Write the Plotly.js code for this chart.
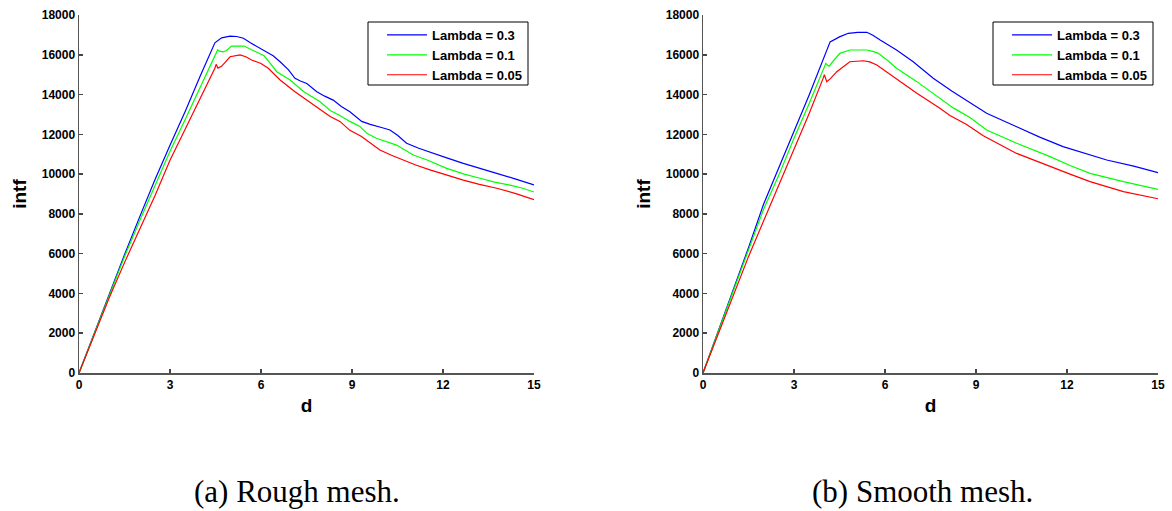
<!DOCTYPE html>
<html>
<head>
<meta charset="utf-8">
<script src="https://cdn.plot.ly/plotly-3.0.1.min.js"></script>
<style>html,body{margin:0;padding:0;background:#fff;}#chart{width:1172px;height:511px;}</style>
</head>
<body>
<div id="chart"></div>
<script>
// ---- Data ----
var seriesNames = ["Lambda = 0.3", "Lambda = 0.1", "Lambda = 0.05"];
var seriesColors = ["#0000ff", "#00ff00", "#ff0000"];
var xTicks = [0, 3, 6, 9, 12, 15];
var yTicks = [0, 2000, 4000, 6000, 8000, 10000, 12000, 14000, 16000, 18000];
var captions = ["(a) Rough mesh.", "(b) Smooth mesh."];

// (a) Rough mesh
var roughD_03 = [0, 0.5, 1, 1.5, 2, 2.5, 3, 3.5, 4, 4.48, 4.7, 4.98, 5.2, 5.42, 5.65, 5.86, 6.19, 6.4, 6.63, 6.9, 7.12, 7.3, 7.51, 7.84, 8.1, 8.38, 8.65, 8.93, 9.32, 9.6, 10.0, 10.25, 10.5, 10.8, 11.2, 11.57, 12.1, 12.67, 13.2, 13.77, 14.4, 15];
var roughV_03 = [0, 2000, 4000, 5950, 7850, 9700, 11450, 13150, 14950, 16600, 16850, 16940, 16920, 16830, 16600, 16420, 16150, 15950, 15650, 15250, 14820, 14680, 14560, 14140, 13920, 13720, 13400, 13130, 12650, 12500, 12330, 12220, 11950, 11550, 11300, 11120, 10830, 10540, 10280, 10040, 9750, 9460];
var roughD_01 = [0, 0.5, 1, 1.5, 2, 2.5, 3, 3.5, 4, 4.57, 4.63, 4.75, 4.85, 5.03, 5.44, 5.7, 5.91, 6.0, 6.1, 6.3, 6.52, 6.96, 7.4, 7.95, 8.28, 8.6, 8.93, 9.26, 9.49, 9.8, 10.1, 10.47, 11.02, 11.5, 12.12, 12.7, 13.22, 13.7, 14.21, 14.6, 15];
var roughV_01 = [0, 1980, 3950, 5850, 7650, 9400, 11150, 12750, 14390, 16240, 16180, 16150, 16200, 16440, 16440, 16250, 16070, 16010, 15950, 15580, 15150, 14730, 14150, 13640, 13200, 12950, 12650, 12400, 12050, 11800, 11650, 11460, 10960, 10700, 10290, 10000, 9790, 9600, 9450, 9300, 9100];
var roughD_005 = [0, 0.5, 1, 1.5, 2, 2.5, 3, 3.5, 4, 4.48, 4.52, 4.58, 4.7, 4.98, 5.31, 5.5, 5.69, 6.0, 6.24, 6.63, 7.12, 7.4, 7.73, 8.0, 8.28, 8.6, 8.93, 9.3, 9.92, 10.3, 10.69, 11.1, 11.57, 12.1, 12.67, 13.2, 13.77, 14.4, 15.0];
var roughV_005 = [0, 1900, 3800, 5550, 7200, 8900, 10700, 12250, 13850, 15320, 15520, 15330, 15420, 15900, 15990, 15900, 15740, 15560, 15320, 14730, 14140, 13830, 13470, 13200, 12900, 12650, 12200, 11900, 11210, 10950, 10710, 10460, 10210, 9960, 9700, 9480, 9290, 9020, 8720];

// (b) Smooth mesh
var smoothD_03 = [0, 0.5, 1, 1.5, 2, 2.5, 3, 3.5, 4.19, 4.5, 4.79, 5.1, 5.4, 5.6, 5.84, 6.1, 6.38, 6.93, 7.59, 8.2, 8.7, 9.35, 10.34, 11.1, 11.87, 12.6, 13.31, 14.2, 15];
var smoothV_03 = [0, 2100, 4150, 6300, 8500, 10350, 12130, 13980, 16650, 16900, 17080, 17130, 17130, 16980, 16740, 16500, 16240, 15650, 14820, 14180, 13700, 13060, 12380, 11860, 11380, 11030, 10710, 10400, 10070];
var smoothD_01 = [0, 0.5, 1, 1.5, 2, 2.5, 3, 3.5, 4.05, 4.1, 4.16, 4.3, 4.51, 4.84, 5.1, 5.4, 5.6, 5.78, 6.1, 6.38, 7.05, 7.59, 8.25, 8.8, 9.35, 10.34, 11.44, 12.1, 12.76, 13.86, 15];
var smoothV_01 = [0, 2050, 4050, 6150, 8250, 9950, 11800, 13550, 15570, 15480, 15430, 15700, 16070, 16240, 16250, 16240, 16170, 16070, 15700, 15320, 14650, 14060, 13330, 12850, 12220, 11550, 10880, 10430, 10040, 9620, 9230];
var smoothD_005 = [0, 0.5, 1, 1.5, 2, 2.5, 3, 3.5, 3.97, 4.0, 4.08, 4.2, 4.41, 4.84, 5.29, 5.5, 5.73, 6.0, 6.38, 7.05, 7.81, 8.14, 8.69, 9.24, 10.34, 11.44, 12.1, 12.76, 13.86, 15];
var smoothV_005 = [0, 1980, 3950, 5850, 7650, 9450, 11300, 13050, 14850, 15000, 14650, 14800, 15150, 15650, 15700, 15640, 15490, 15200, 14820, 14060, 13310, 12950, 12500, 11930, 11040, 10370, 10000, 9620, 9120, 8760];

// ---- Traces ----
var roughX = [roughD_03, roughD_01, roughD_005];
var roughY = [roughV_03, roughV_01, roughV_005];
var smoothX = [smoothD_03, smoothD_01, smoothD_005];
var smoothY = [smoothV_03, smoothV_01, smoothV_005];
var traces = [];
for (var i = 0; i < 3; i++) {
  traces.push({x: roughX[i], y: roughY[i], type: 'scatter', mode: 'lines', name: seriesNames[i],
    line: {color: seriesColors[i], width: 1.2}, xaxis: 'x', yaxis: 'y', legend: 'legend'});
}
for (var j = 0; j < 3; j++) {
  traces.push({x: smoothX[j], y: smoothY[j], type: 'scatter', mode: 'lines', name: seriesNames[j],
    line: {color: seriesColors[j], width: 1.2}, xaxis: 'x2', yaxis: 'y2', legend: 'legend2'});
}

var W = 1172, H = 511;
var tickFont = {family: 'Liberation Sans, Arial, sans-serif', size: 12, color: '#000', weight: 'bold'};
var titleFont = {family: 'Liberation Sans, Arial, sans-serif', size: 19, color: '#000', weight: 'bold'};
function xAxis(domain, anchor) {
  return {domain: domain, anchor: anchor, range: [0, 15], tickvals: xTicks, ticktext: xTicks.map(String),
    showgrid: false, zeroline: false, showline: true, linecolor: '#555', linewidth: 1.5, mirror: false,
    ticks: 'inside', ticklen: 4, tickcolor: '#444', tickwidth: 1.5, tickfont: tickFont,
    title: {text: 'd', font: titleFont, standoff: 8}, fixedrange: true};
}
function yAxis(domain, anchor) {
  return {domain: domain, anchor: anchor, range: [0, 18000], tickvals: yTicks, ticktext: yTicks.map(String),
    showgrid: false, zeroline: false, showline: true, linecolor: '#555', linewidth: 1.5, mirror: false,
    ticks: 'inside', ticklen: 4, tickcolor: '#444', tickwidth: 1.5, tickfont: tickFont,
    title: {text: 'intf', font: titleFont, standoff: 10}, fixedrange: true};
}
var yDom = [1 - 373 / H, 1 - 15 / H];
var legendBase = {xref: 'paper', yref: 'paper', xanchor: 'left', yanchor: 'top', y: 1 - 20 / H,
  bgcolor: 'rgba(0,0,0,0)', borderwidth: 0, itemwidth: 40, tracegroupgap: 0,
  font: {family: 'Liberation Sans, Arial, sans-serif', size: 13, color: '#000', weight: 'bold'}};
var leg1 = Object.assign({}, legendBase, {x: 382 / W});
var leg2 = Object.assign({}, legendBase, {x: 1007 / W});

function legendFrame(x0, x1) {
  return {type: 'rect', xref: 'paper', yref: 'paper', x0: x0 / W, x1: x1 / W, y0: 1 - 85 / H, y1: 1 - 22 / H,
    line: {color: '#000', width: 1}, fillcolor: '#fff', layer: 'above'};
}

var layout = {
  width: W, height: H, margin: {l: 0, r: 0, t: 0, b: 0},
  paper_bgcolor: '#fff', plot_bgcolor: '#fff', showlegend: true,
  xaxis: xAxis([79 / W, 534 / W], 'y'),
  yaxis: yAxis(yDom, 'x'),
  xaxis2: xAxis([703 / W, 1158 / W], 'y2'),
  yaxis2: yAxis(yDom, 'x2'),
  legend: leg1, legend2: leg2,
  shapes: [legendFrame(368, 528), legendFrame(993, 1153)],
  annotations: [
    {text: captions[0], xref: 'paper', yref: 'paper', x: 297 / W, y: 1 - 491 / H, xanchor: 'center', yanchor: 'middle',
      showarrow: false, font: {family: 'Liberation Serif, DejaVu Serif, serif', size: 31, color: '#000'}},
    {text: captions[1], xref: 'paper', yref: 'paper', x: 922 / W, y: 1 - 491 / H, xanchor: 'center', yanchor: 'middle',
      showarrow: false, font: {family: 'Liberation Serif, DejaVu Serif, serif', size: 31, color: '#000'}}
  ]
};
Plotly.newPlot('chart', traces, layout, {displayModeBar: false, staticPlot: true});
</script>
</body>
</html>
